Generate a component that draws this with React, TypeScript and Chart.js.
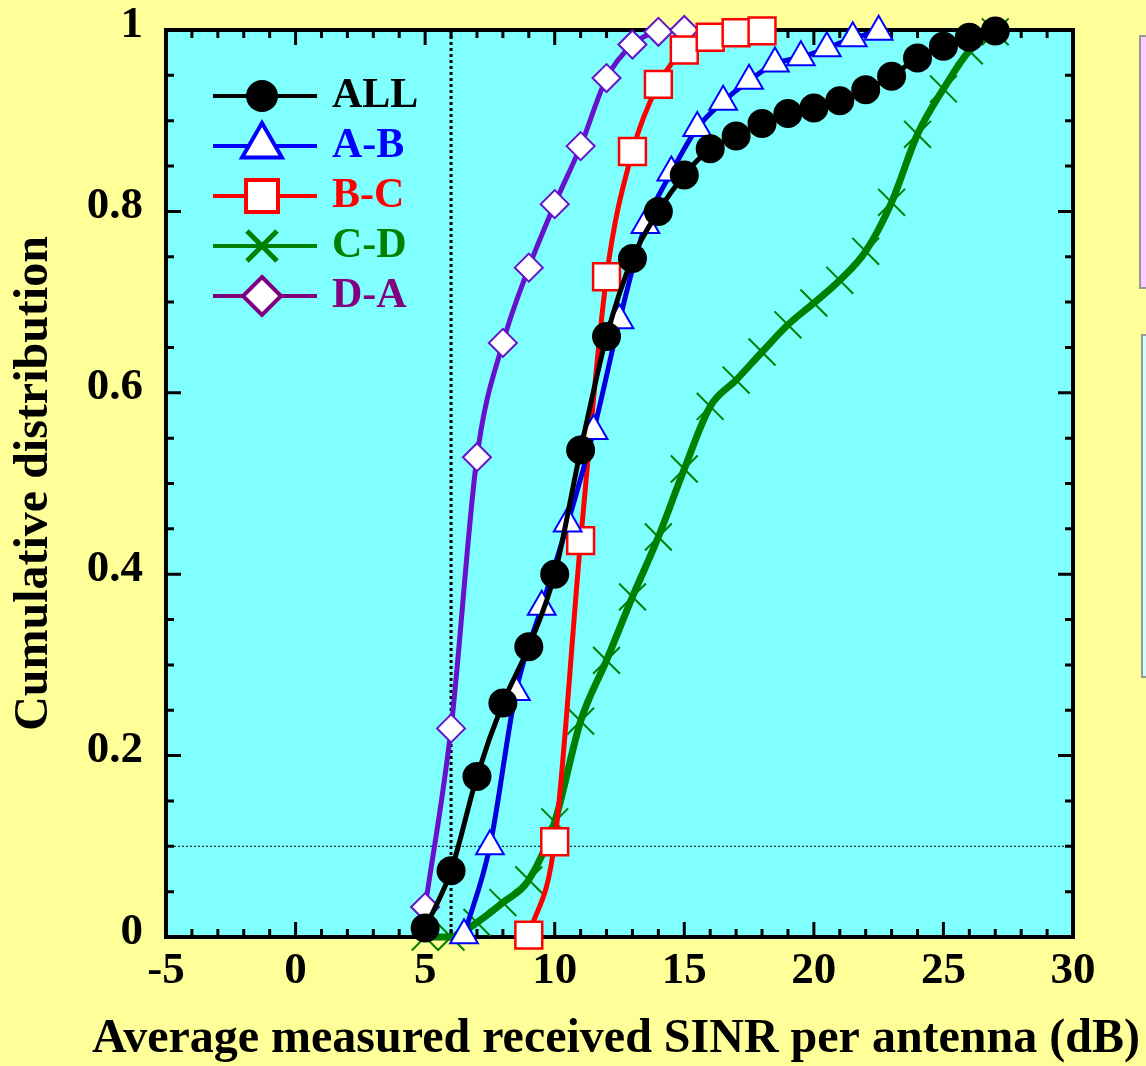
import React, { useEffect, useRef } from 'react';
import { Chart, registerables } from 'chart.js';

Chart.register(...registerables);

// ---------- data ----------
const allX = [5, 6, 7, 8, 9, 10, 11, 12, 13, 14, 15, 16, 17, 18, 19, 20, 21, 22, 23, 24, 25, 26, 27];
const allY = [0.01, 0.073, 0.177, 0.258, 0.32, 0.4, 0.537, 0.662, 0.748, 0.8, 0.84, 0.869, 0.883, 0.897, 0.908, 0.914, 0.922, 0.934, 0.949, 0.969, 0.982, 0.992, 0.999];

const abX = [6.5, 7.5, 8.5, 9.5, 10.5, 11.5, 12.5, 13.5, 14.5, 15.5, 16.5, 17.5, 18.5, 19.5, 20.5, 21.5, 22.5];
const abY = [0.002, 0.1, 0.27, 0.364, 0.456, 0.558, 0.68, 0.785, 0.843, 0.892, 0.921, 0.944, 0.963, 0.97, 0.98, 0.991, 0.998];

const bcX = [9, 10, 11, 12, 13, 14, 15, 16, 17, 18];
const bcY = [0.002, 0.105, 0.437, 0.728, 0.866, 0.94, 0.978, 0.992, 0.997, 0.999];

const cdX = [5, 6, 7, 8, 9, 10, 11, 12, 13, 14, 15, 16, 17, 18, 19, 20, 21, 22, 23, 24, 25, 26, 27];
const cdY = [0, 0, 0.016, 0.038, 0.063, 0.127, 0.238, 0.305, 0.375, 0.441, 0.516, 0.585, 0.614, 0.645, 0.675, 0.699, 0.724, 0.756, 0.81, 0.885, 0.935, 0.977, 0.998];

const daX = [5, 6, 7, 8, 9, 10, 11, 12, 13, 14, 15];
const daY = [0.033, 0.23, 0.529, 0.655, 0.738, 0.808, 0.872, 0.947, 0.984, 0.998, 1.0];

const seriesNames = ['ALL', 'A-B', 'B-C', 'C-D', 'D-A'];
const legendColors = ['#000000', '#0000FF', '#FF0000', '#008000', '#800080'];
const legendShapes = ['circle', 'triangle', 'square', 'cross', 'diamond'];

const xTitle = 'Average measured received SINR per antenna (dB)';
const yTitle = 'Cumulative distribution';
const refX = 6;
const refY = 0.1;

const FONT = "'Liberation Serif', 'Times New Roman', serif";

const pts = (xs: number[], ys: number[]) => xs.map((x, i) => ({ x, y: ys[i] }));

function drawShape(ctx: CanvasRenderingContext2D, shape: string, x: number, y: number, color: string) {
  ctx.save();
  ctx.lineJoin = 'miter';
  ctx.beginPath();
  if (shape === 'circle') {
    ctx.arc(x, y, 16, 0, Math.PI * 2);
    ctx.fillStyle = color;
    ctx.fill();
  } else if (shape === 'triangle') {
    const r = 23;
    ctx.moveTo(x, y - r);
    ctx.lineTo(x + r * Math.sin((2 * Math.PI) / 3), y + r / 2);
    ctx.lineTo(x - r * Math.sin((2 * Math.PI) / 3), y + r / 2);
    ctx.closePath();
    ctx.fillStyle = '#fff';
    ctx.fill();
    ctx.lineWidth = 4;
    ctx.strokeStyle = color;
    ctx.stroke();
  } else if (shape === 'square') {
    ctx.rect(x - 16, y - 16, 32, 32);
    ctx.fillStyle = '#fff';
    ctx.fill();
    ctx.lineWidth = 4;
    ctx.strokeStyle = color;
    ctx.stroke();
  } else if (shape === 'cross') {
    const d = 15;
    ctx.moveTo(x - d, y - d);
    ctx.lineTo(x + d, y + d);
    ctx.moveTo(x + d, y - d);
    ctx.lineTo(x - d, y + d);
    ctx.lineWidth = 5;
    ctx.strokeStyle = color;
    ctx.stroke();
  } else if (shape === 'diamond') {
    const r = 19;
    ctx.moveTo(x, y - r);
    ctx.lineTo(x + r, y);
    ctx.lineTo(x, y + r);
    ctx.lineTo(x - r, y);
    ctx.closePath();
    ctx.fillStyle = '#fff';
    ctx.fill();
    ctx.lineWidth = 4;
    ctx.strokeStyle = color;
    ctx.stroke();
  }
  ctx.restore();
}

const backgroundPlugin = {
  id: 'bgPlugin',
  beforeDraw(chart: any) {
    const { ctx, chartArea } = chart;
    ctx.save();
    ctx.fillStyle = '#FFFF99';
    ctx.fillRect(0, 0, chart.width, chart.height);
    ctx.fillStyle = '#80FFFF';
    ctx.fillRect(chartArea.left, chartArea.top, chartArea.right - chartArea.left, chartArea.bottom - chartArea.top);
    // side panels (cut off at right edge)
    ctx.lineWidth = 2;
    ctx.strokeStyle = '#999999';
    ctx.fillStyle = '#FFCCFF';
    ctx.fillRect(1140, 36, 20, 252);
    ctx.strokeRect(1140, 36, 20, 252);
    ctx.fillStyle = '#CCFFFF';
    ctx.fillRect(1142, 335, 20, 342);
    ctx.strokeRect(1142, 335, 20, 342);
    // x-axis title (wider than the plot area, so drawn without width limit)
    ctx.fillStyle = '#000';
    ctx.font = `bold 48px ${FONT}`;
    ctx.textAlign = 'center';
    ctx.textBaseline = 'middle';
    ctx.fillText(xTitle, 616, 1040);
    ctx.restore();
  },
  beforeDatasetsDraw(chart: any) {
    const { ctx, chartArea } = chart;
    const xs = chart.scales.x;
    const ys = chart.scales.y;
    const { left, right, top, bottom } = chartArea;
    ctx.save();
    // dotted reference lines
    ctx.strokeStyle = '#000';
    ctx.setLineDash([3, 3]);
    ctx.lineWidth = 3;
    const vx = xs.getPixelForValue(refX);
    ctx.beginPath();
    ctx.moveTo(vx, top);
    ctx.lineTo(vx, bottom);
    ctx.stroke();
    ctx.lineWidth = 1;
    ctx.setLineDash([2, 2]);
    const hy = ys.getPixelForValue(refY);
    ctx.beginPath();
    ctx.moveTo(left, hy);
    ctx.lineTo(right, hy);
    ctx.stroke();
    ctx.setLineDash([]);
    // frame
    ctx.lineWidth = 4;
    ctx.strokeRect(left, top, right - left, bottom - top);
    // ticks
    ctx.lineWidth = 3;
    ctx.beginPath();
    for (let v = -5; v <= 30; v++) {
      const px = xs.getPixelForValue(v);
      const len = v % 5 === 0 ? 15 : 8;
      ctx.moveTo(px, bottom);
      ctx.lineTo(px, bottom - len);
      ctx.moveTo(px, top);
      ctx.lineTo(px, top + len);
    }
    for (let k = 0; k <= 20; k++) {
      const py = ys.getPixelForValue(k * 0.05);
      const len = k % 4 === 0 ? 15 : 8;
      ctx.moveTo(left, py);
      ctx.lineTo(left + len, py);
      ctx.moveTo(right, py);
      ctx.lineTo(right - len, py);
    }
    ctx.stroke();
    ctx.restore();
  },
  afterDatasetsDraw(chart: any) {
    const { ctx } = chart;
    ctx.save();
    const y0 = 96;
    const dy = 50;
    for (let i = 0; i < seriesNames.length; i++) {
      const y = y0 + i * dy;
      ctx.strokeStyle = legendColors[i];
      ctx.lineWidth = 4;
      ctx.beginPath();
      ctx.moveTo(213, y);
      ctx.lineTo(317, y);
      ctx.stroke();
      drawShape(ctx, legendShapes[i], 262, y, legendColors[i]);
      ctx.fillStyle = legendColors[i];
      ctx.font = `bold 42px ${FONT}`;
      ctx.textAlign = 'left';
      ctx.textBaseline = 'middle';
      ctx.fillText(seriesNames[i], 332, y);
    }
    ctx.restore();
  },
};

export default function App() {
  const ref = useRef<HTMLCanvasElement | null>(null);

  useEffect(() => {
    if (!ref.current) return;
    const tickFont = { family: FONT, size: 45, weight: 'bold' as const };
    const common = { showLine: true, clip: false as const, cubicInterpolationMode: 'monotone' as const, tension: 0.4 };
    const chart = new Chart(ref.current, {
      type: 'scatter',
      data: {
        datasets: [
          {
            ...common,
            label: seriesNames[0],
            data: pts(allX, allY),
            borderColor: '#000000',
            borderWidth: 5,
            pointStyle: 'circle',
            pointRadius: 14.5,
            pointBackgroundColor: '#000000',
            pointBorderColor: '#000000',
            pointBorderWidth: 0,
          },
          {
            ...common,
            label: seriesNames[1],
            data: pts(abX, abY),
            borderColor: '#0000DD',
            borderWidth: 5,
            pointStyle: 'triangle',
            pointRadius: 16,
            pointBackgroundColor: '#FFFFFF',
            pointBorderColor: '#0000FF',
            pointBorderWidth: 2,
          },
          {
            ...common,
            label: seriesNames[2],
            data: pts(bcX, bcY),
            borderColor: '#FF0000',
            borderWidth: 5,
            pointStyle: 'rect',
            pointRadius: 19,
            pointBackgroundColor: '#FFFFFF',
            pointBorderColor: '#FF0000',
            pointBorderWidth: 2.5,
          },
          {
            ...common,
            label: seriesNames[3],
            data: pts(cdX, cdY),
            borderColor: '#008000',
            borderWidth: 7,
            pointStyle: 'crossRot',
            pointRadius: 19,
            pointBackgroundColor: '#008000',
            pointBorderColor: '#008000',
            pointBorderWidth: 2,
          },
          {
            ...common,
            label: seriesNames[4],
            data: pts(daX, daY),
            borderColor: '#6611CC',
            borderWidth: 5,
            pointStyle: 'rectRot',
            pointRadius: 14,
            pointBackgroundColor: '#FFFFFF',
            pointBorderColor: '#6611CC',
            pointBorderWidth: 2,
          },
        ],
      },
      options: {
        responsive: false,
        animation: false,
        events: [],
        devicePixelRatio: 1,
        layout: { padding: { top: 30, right: 73, left: 0, bottom: 0 } },
        plugins: {
          legend: { display: false },
          tooltip: { enabled: false },
        },
        scales: {
          x: {
            type: 'linear',
            min: -5,
            max: 30,
            grid: { display: false, drawTicks: false },
            border: { display: false },
            ticks: { stepSize: 5, color: '#000', font: tickFont, padding: 7, maxRotation: 0, autoSkip: false },
            title: { display: false, text: xTitle },
            afterFit: (s: any) => {
              s.height = 129;
              s.paddingLeft = 0;
              s.paddingRight = 0;
            },
          },
          y: {
            type: 'linear',
            min: 0,
            max: 1,
            grid: { display: false, drawTicks: false },
            border: { display: false },
            ticks: {
              stepSize: 0.2,
              color: '#000',
              font: tickFont,
              padding: 23,
              labelOffset: -5,
              callback: (v: any) => String(Number(Number(v).toFixed(2))),
            },
            title: {
              display: true,
              text: yTitle,
              color: '#000',
              font: { family: FONT, size: 48, weight: 'bold', lineHeight: 1.2 },
              padding: { top: 6, bottom: 0 },
            },
            afterFit: (s: any) => {
              s.width = 166;
              s.paddingTop = 0;
              s.paddingBottom = 0;
            },
          },
        },
      },
      plugins: [backgroundPlugin],
    });
    return () => chart.destroy();
  }, []);

  return (
    <div style={{ position: 'absolute', left: 0, top: 0, width: 1146, height: 1066 }}>
      <canvas ref={ref} width={1146} height={1066} style={{ display: 'block', width: 1146, height: 1066 }} />
    </div>
  );
}
